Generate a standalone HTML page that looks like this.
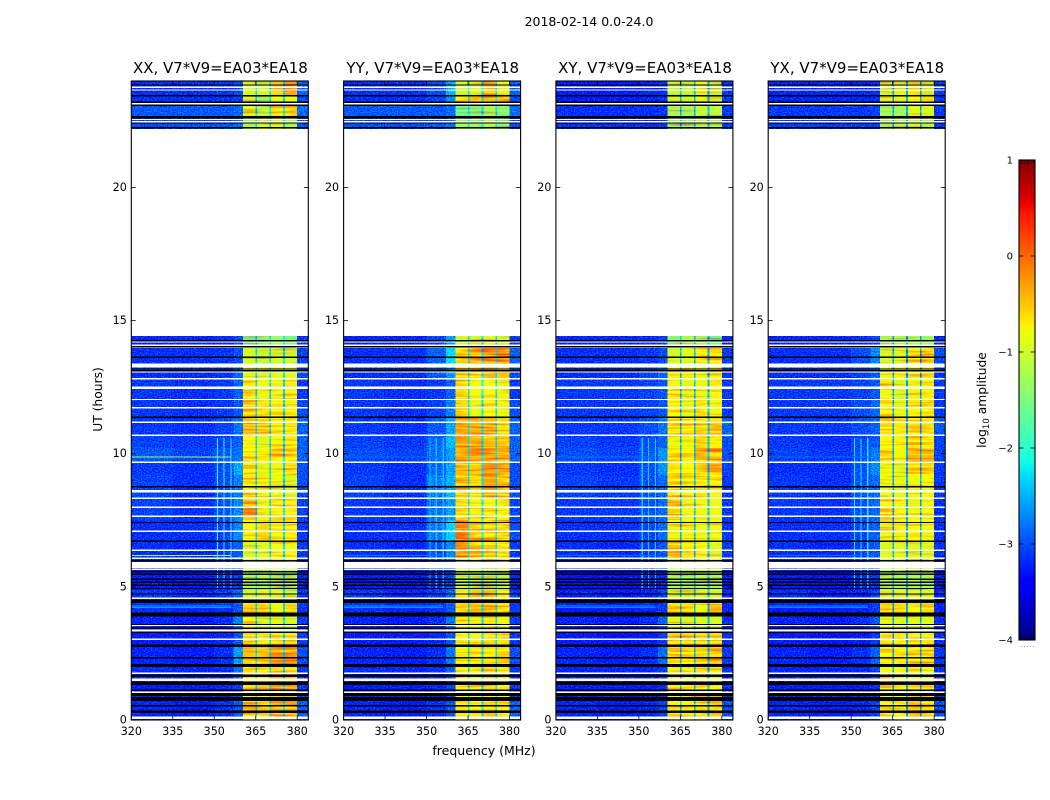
<!DOCTYPE html>
<html lang="en">
<head>
<meta charset="utf-8">
<title>2018-02-14 0.0-24.0</title>
<style>
html,body{margin:0;padding:0;background:#fff;}
svg{display:block;}
text{font-family:"DejaVu Sans",sans-serif;fill:#000;}
</style>
</head>
<body>
<svg id="figure" xmlns="http://www.w3.org/2000/svg" width="1050" height="800" viewBox="0 0 1050 800">
  <!-- Decorative grain only: stands in for pixel-level speckle that was not transcribed. Not data. -->
  <defs>
    <filter id="grainLow" filterUnits="userSpaceOnUse" x="0" y="0" width="1050" height="800" color-interpolation-filters="sRGB">
      <feTurbulence type="fractalNoise" baseFrequency="0.7 0.8" numOctaves="1" seed="3" result="t"/>
      <feColorMatrix in="t" type="matrix" values="0 0 0 0 .5  0 1 0 0 0  0 0 0 0 .5  0 0 0 0 1" result="n"/>
      <feComposite in="SourceGraphic" in2="n" operator="arithmetic" k1="0" k2="1" k3="1.1" k4="-.55" result="m"/>
      <feComposite in="m" in2="SourceAlpha" operator="in"/>
    </filter>
    <filter id="grainBand" filterUnits="userSpaceOnUse" x="0" y="0" width="1050" height="800" color-interpolation-filters="sRGB">
      <feTurbulence type="fractalNoise" baseFrequency="0.03 0.5" numOctaves="1" seed="8" result="t"/>
      <feColorMatrix in="t" type="matrix" values="0 0 0 0 .5  0 1 0 0 0  0 0 0 0 .5  0 0 0 0 1" result="n"/>
      <feComposite in="SourceGraphic" in2="n" operator="arithmetic" k1="0" k2="1" k3="1.2" k4="-.6" result="m"/>
      <feComposite in="m" in2="SourceAlpha" operator="in"/>
    </filter>
  </defs>
  <text x="589" y="26" font-size="12.5" text-anchor="middle">2018-02-14 0.0-24.0</text>
  <text x="484" y="755" font-size="12.5" text-anchor="middle">frequency (MHz)</text>
  <text x="102" y="399.5" font-size="12.3" text-anchor="middle" transform="rotate(-90 102 399.5)">UT (hours)</text>
  <text x="986" y="400" font-size="12.3" text-anchor="middle" transform="rotate(-90 986 400)">log<tspan font-size="8.6" dy="3">10</tspan><tspan dy="-3"> amplitude</tspan></text>
</svg>
<script>
// ---------- data ----------
const panelTitles = ['XX, V7*V9=EA03*EA18', 'YY, V7*V9=EA03*EA18', 'XY, V7*V9=EA03*EA18', 'YX, V7*V9=EA03*EA18'];
const xTicks = [320, 335, 350, 365, 380];
const yTicks = [0, 5, 10, 15, 20];
const colorTicks = [1, 0, -1, -2, -3, -4];

// frequency band edges (MHz) for the nine columns of each row
const freqEdges = [320, 335, 350, 357, 360.4, 365, 370, 375, 380, 384];
// time edges (UT hours), top to bottom; a null row means no data
const timeEdges = [24, 23.42, 23.13, 22.64, 22.19, 14.42, 14.01, 13.37, 12.84, 12.02, 11.38, 10.7, 10.21, 9.69, 9.2, 8.34, 7.51, 6.72, 6.08, 5.63, 4.88, 4.36, 3.98, 3.3, 2.78, 2.03, 1.43, 0.75, 0];

// log10 amplitude per time row and frequency band
const valuesXX = [
[-3.15,-3.15,-3.12,-3.0,-.95,-1.0,-.55,-.35,-2.9],
[-3.15,-3.15,-3.15,-3.05,-.95,-1.3,-.8,-.85,-3.0],
[-2.95,-2.95,-2.95,-2.85,-.9,-1.1,-.45,-.4,-2.85],
[-3.0,-3.0,-2.97,-2.85,-1.2,-.95,-.85,-1.2,-3.0],
null,
[-3.2,-3.2,-3.17,-3.05,-1.45,-1.35,-1.3,-1.5,-3.1],
[-3.15,-3.15,-3.12,-3.0,-.95,-1.05,-.95,-1.0,-3.05],
[-3.15,-3.15,-3.12,-2.85,-.85,-.95,-.85,-.85,-3.0],
[-3.1,-3.15,-3.1,-2.9,-.65,-.8,-.8,-.7,-3.1],
[-3.1,-3.15,-3.1,-2.95,-.55,-.65,-.7,-.75,-3.0],
[-3.1,-3.15,-3.05,-2.8,-.45,-.5,-.7,-.7,-2.9],
[-3.05,-3.1,-3.05,-2.9,-.7,-.9,-.75,-.7,-2.9],
[-2.95,-3.05,-2.95,-2.8,-.6,-.7,-.55,-.65,-2.9],
[-3.1,-3.15,-3.0,-2.55,-.6,-.85,-.8,-.6,-3.0],
[-3.05,-3.15,-3.0,-2.75,-.65,-.75,-.8,-.9,-3.0],
[-3.05,-3.15,-3.0,-2.7,-.4,-.8,-.65,-.65,-3.05],
[-3.15,-3.15,-3.05,-2.7,-.7,-.6,-.7,-.65,-3.1],
[-3.15,-3.2,-3.1,-2.9,-.95,-.9,-.75,-.8,-3.1],
[-3.2,-3.2,-3.1,-2.95,-.95,-.85,-.45,-.65,-3.1],
[-3.25,-3.25,-3.2,-3.1,-1.2,-1.2,-1.15,-1.2,-3.2],
[-3.1,-3.2,-3.1,-2.85,-.95,-.85,-.8,-1.0,-3.1],
[-3.15,-3.2,-3.15,-2.95,-.55,-.55,-.8,-.55,-3.1],
[-3.2,-3.25,-3.15,-2.75,-.75,-.95,-.85,-.95,-3.1],
[-3.25,-3.25,-3.2,-2.95,-.6,-.7,-.6,-.55,-3.1],
[-3.2,-3.25,-3.15,-2.6,-.45,-.45,-.3,-.25,-3.0],
[-3.15,-3.2,-3.15,-2.85,-.7,-.7,-.55,-.65,-3.1],
[-3.25,-3.25,-3.2,-3.05,-.6,-.55,-.3,-.3,-3.1],
[-3.2,-3.25,-3.15,-2.95,-.55,-.6,-.35,-.4,-2.9]
];
const valuesYY = [
[-3.15,-3.15,-3.0,-2.5,-1.0,-.9,-.45,-.85,-2.9],
[-3.15,-3.15,-3.05,-2.65,-.65,-.55,-.4,-.4,-3.0],
[-2.95,-2.95,-2.95,-2.85,-1.55,-1.4,-1.2,-1.4,-2.85],
[-3.0,-3.0,-2.97,-2.85,-1.3,-1.3,-1.1,-1.35,-3.0],
null,
[-3.2,-3.2,-3.05,-2.6,-.95,-.95,-.85,-.95,-3.1],
[-3.15,-3.15,-2.9,-2.3,-.55,-.45,-.3,-.15,-2.9],
[-3.15,-3.15,-2.95,-2.65,-.6,-.55,-.4,-.5,-3.0],
[-3.1,-3.15,-3.1,-2.9,-.65,-.75,-.65,-.8,-3.1],
[-3.1,-3.15,-3.05,-2.75,-.6,-.85,-.7,-.8,-3.0],
[-3.1,-3.15,-2.95,-2.55,-.35,-.35,-.4,-.6,-2.9],
[-3.05,-3.1,-2.9,-2.45,-.3,-.4,-.55,-.5,-2.9],
[-3.0,-3.05,-2.85,-2.6,-.3,-.3,-.3,-.35,-2.9],
[-3.1,-3.15,-2.9,-2.55,-.45,-.5,-.25,-.3,-3.0],
[-3.05,-3.15,-2.75,-2.5,-.45,-.6,-.35,-.5,-3.0],
[-3.1,-3.15,-2.85,-2.6,-.65,-.75,-.7,-.75,-3.05],
[-3.15,-3.15,-2.8,-2.35,-.15,-.4,-.5,-.6,-3.0],
[-3.15,-3.2,-3.0,-2.7,-.25,-.4,-.5,-.65,-3.1],
[-3.2,-3.2,-3.1,-2.85,-.9,-.7,-.4,-.6,-3.1],
[-3.25,-3.25,-3.2,-3.0,-1.05,-1.1,-1.05,-1.1,-3.2],
[-3.1,-3.2,-3.1,-2.85,-.7,-.6,-.55,-.7,-3.1],
[-3.15,-3.2,-3.15,-2.95,-.55,-.5,-.45,-.55,-3.1],
[-3.2,-3.25,-3.15,-2.8,-.65,-.8,-.7,-.8,-3.1],
[-3.25,-3.25,-3.2,-2.95,-.75,-.7,-.6,-.7,-3.1],
[-3.2,-3.25,-3.15,-2.8,-.75,-.7,-.7,-.6,-3.0],
[-3.15,-3.2,-3.15,-2.9,-.75,-.8,-.65,-.8,-3.1],
[-3.25,-3.25,-3.2,-3.05,-.7,-.65,-.6,-.7,-3.1],
[-3.2,-3.25,-3.15,-2.95,-.65,-.7,-.6,-.7,-2.9]
];
const valuesXY = [
[-3.25,-3.25,-3.2,-3.15,-1.05,-1.1,-.85,-1.0,-3.1],
[-3.25,-3.25,-3.2,-3.15,-1.0,-1.05,-.85,-.95,-3.1],
[-3.15,-3.15,-3.15,-3.1,-1.2,-1.25,-1.05,-1.1,-3.1],
[-3.15,-3.15,-3.15,-3.1,-1.3,-1.3,-1.1,-1.2,-3.1],
null,
[-3.2,-3.2,-3.15,-3.05,-1.45,-1.2,-1.2,-1.5,-3.2],
[-3.15,-3.15,-3.1,-3.0,-.95,-.9,-.7,-.7,-3.1],
[-3.15,-3.15,-3.05,-2.9,-.75,-.75,-.8,-.75,-3.1],
[-3.1,-3.1,-3.05,-2.95,-.7,-.85,-.8,-.7,-3.1],
[-3.1,-3.1,-3.05,-2.95,-.7,-.85,-.65,-.8,-3.1],
[-3.1,-3.1,-3.0,-2.8,-.65,-.7,-.55,-.4,-2.9],
[-3.05,-3.1,-3.0,-2.9,-.8,-.8,-.55,-.6,-3.0],
[-3.0,-3.05,-2.95,-2.65,-.7,-.75,-.4,-.4,-3.0],
[-3.1,-3.15,-3.0,-2.65,-.65,-.7,-.55,-.55,-3.05],
[-3.05,-3.1,-3.0,-2.85,-.65,-.8,-.65,-.7,-3.1],
[-3.1,-3.1,-3.0,-2.85,-.5,-.8,-.75,-.8,-3.1],
[-3.15,-3.15,-3.05,-2.85,-.8,-.8,-.8,-.8,-3.1],
[-3.15,-3.2,-3.1,-2.95,-.45,-.75,-.7,-.9,-3.1],
[-3.2,-3.2,-3.1,-3.0,-.95,-.8,-.65,-.7,-3.15],
[-3.3,-3.3,-3.25,-3.15,-1.2,-1.25,-1.15,-1.2,-3.25],
[-3.2,-3.25,-3.2,-3.05,-.95,-.9,-.85,-.95,-3.2],
[-3.25,-3.25,-3.2,-3.1,-.6,-.6,-.8,-.55,-3.2],
[-3.2,-3.25,-3.15,-2.9,-.85,-.95,-.9,-.95,-3.15],
[-3.25,-3.3,-3.25,-3.1,-.65,-.65,-.65,-.6,-3.15],
[-3.2,-3.25,-3.15,-2.85,-.6,-.65,-.55,-.45,-3.1],
[-3.2,-3.2,-3.2,-3.05,-.8,-.8,-.7,-.8,-3.15],
[-3.25,-3.25,-3.25,-3.15,-.65,-.65,-.6,-.65,-3.15],
[-3.2,-3.25,-3.2,-3.05,-.7,-.75,-.65,-.7,-3.0]
];
const valuesYX = [
[-3.2,-3.2,-3.2,-3.15,-.95,-.9,-.7,-.95,-3.1],
[-3.2,-3.2,-3.2,-3.15,-.85,-.9,-.65,-.6,-3.1],
[-3.1,-3.1,-3.1,-3.05,-1.25,-1.3,-.9,-.95,-3.1],
[-3.1,-3.1,-3.1,-3.05,-1.2,-1.15,-.95,-1.15,-3.1],
null,
[-3.2,-3.2,-3.15,-3.05,-1.2,-1.2,-1.2,-1.3,-3.2],
[-3.15,-3.15,-3.0,-2.7,-.95,-.9,-.75,-.55,-3.0],
[-3.15,-3.15,-3.05,-2.9,-.8,-.75,-.8,-.7,-3.1],
[-3.1,-3.1,-3.05,-2.95,-.75,-.95,-.8,-.75,-3.1],
[-3.1,-3.1,-3.0,-2.85,-.7,-.85,-.7,-.65,-3.1],
[-3.1,-3.1,-3.0,-2.9,-.65,-.7,-.7,-.7,-2.95],
[-3.1,-3.15,-3.05,-2.95,-.7,-.75,-.65,-.7,-3.05],
[-3.05,-3.1,-3.0,-2.75,-.6,-.8,-.4,-.4,-3.05],
[-3.15,-3.15,-3.0,-2.7,-.8,-.9,-.7,-.6,-3.1],
[-3.1,-3.15,-3.0,-2.85,-.8,-.85,-.8,-.75,-3.1],
[-3.1,-3.15,-3.0,-2.85,-.7,-.75,-.8,-.75,-3.15],
[-3.15,-3.15,-3.05,-2.9,-.8,-.75,-.7,-.8,-3.15],
[-3.15,-3.2,-3.1,-2.95,-.9,-.9,-.9,-.9,-3.15],
[-3.2,-3.2,-3.1,-3.0,-.95,-.85,-.7,-.8,-3.15],
[-3.25,-3.3,-3.25,-3.15,-1.15,-1.2,-1.15,-1.2,-3.25],
[-3.15,-3.25,-3.2,-3.05,-.9,-.85,-.85,-.9,-3.2],
[-3.25,-3.25,-3.2,-3.1,-.65,-.6,-.7,-.6,-3.2],
[-3.2,-3.25,-3.15,-2.95,-.85,-.95,-.85,-.9,-3.15],
[-3.25,-3.3,-3.25,-3.1,-.65,-.7,-.6,-.65,-3.15],
[-3.2,-3.25,-3.15,-2.9,-.65,-.7,-.6,-.55,-3.1],
[-3.2,-3.2,-3.2,-3.05,-.8,-.8,-.75,-.8,-3.15],
[-3.25,-3.25,-3.25,-3.15,-.65,-.7,-.6,-.65,-3.15],
[-3.2,-3.25,-3.2,-3.05,-.7,-.7,-.55,-.65,-3.0]
];
const panelValues = [valuesXX, valuesYY, valuesXY, valuesYX];

// narrow dropouts between sub-bands
const gapFreqs = [365, 370, 375];
const gapLevels = [-2.35, -2.3, -2.5, -2.6];

// vertical interference lines, 4.9 h to 10.6 h
const rfiFreqs = [351, 353.3, 355.8];
const rfiLevels = [-2.1, -2.4, -2.35, -2.2];
const rfiStartHour = 4.9;
const rfiEndHour = 10.6;

// horizontal interference rows: hour and level per panel
const rfiRowHours = [9.9, 6.2, 4.75, 4.3, 4.25];
const rfiRowLevelsXX = [-1.3, -1.35, -1.7, -2.55, -2.6];
const rfiRowLevelsYY = [-2.85, -2.8, -2.3, -2.6, -2.65];
const rfiRowLevelsXY = [-2.8, -2.85, -2.45, -2.65, -2.7];
const rfiRowLevelsYX = [-2.85, -2.85, -2.5, -2.65, -2.7];
const rfiRowLevels = [rfiRowLevelsXX, rfiRowLevelsYY, rfiRowLevelsXY, rfiRowLevelsYX];

// flagged integrations: no-data (white) and zero-amplitude (black) rows, UT hours
const flagWhiteHours = [23.76, 23.66, 23.15, 22.55, 22.47, 14.21, 14.07, 14.0, 13.37, 13.32, 13.27, 13.07, 12.82, 12.5, 12.45, 12.04, 11.73, 11.18, 10.69, 9.68, 8.61, 8.57, 8.33, 7.99, 7.65, 7.09, 6.37, 6.08, 5.91, 5.86, 5.81, 5.76, 5.71, 5.65, 4.57, 3.56, 3.38, 3.33, 3.03, 1.76, 1.53, 1.48, 1.04, 0.11, 0.06];
const flagBlackHours = [23.85, 23.44, 23.2, 23.09, 22.66, 22.61, 22.42, 22.24, 14.24, 14.02, 13.62, 13.18, 13.12, 11.37, 8.76, 7.42, 6.71, 5.98, 5.57, 5.47, 5.29, 5.17, 5.06, 4.94, 4.73, 4.51, 4.46, 4.41, 4.02, 3.97, 3.92, 3.59, 3.45, 3.3, 2.82, 2.77, 2.34, 2.07, 2.02, 1.69, 1.64, 1.43, 1.38, 1.33, 1.12, 0.98, 0.93, 0.83, 0.78, 0.73, 0.54, 0.34, 0.29];

// ---------- layout ----------
const panelLefts = [131.3, 343.6, 555.9, 768.2];
const panelWidth = 177;
const plotTop = 81;
const plotBottom = 720;
const freqMin = 320;
const freqMax = 384;
const hourMax = 24;
const flagDuration = 0.05;
const cbarX = 1019;
const cbarW = 16;
const cbarTop = 160;
const cbarBottom = 640;
const cbarMin = -4;
const cbarMax = 1;
const firstBandColumn = 4;
const lastBandColumn = 7;

const NS = 'http://www.w3.org/2000/svg';
const svg = document.getElementById('figure');

function xScale(panel, freq) {
  return panelLefts[panel] + (freq - freqMin) / (freqMax - freqMin) * panelWidth;
}
function yScale(hour) {
  return plotBottom - hour / hourMax * (plotBottom - plotTop);
}
function cbarScale(level) {
  return cbarBottom - (level - cbarMin) / (cbarMax - cbarMin) * (cbarBottom - cbarTop);
}
function ramp(v, pts) {
  if (v <= pts[0][0]) return pts[0][1];
  for (let i = 1; i < pts.length; i++) {
    if (v <= pts[i][0]) {
      const t = (v - pts[i - 1][0]) / (pts[i][0] - pts[i - 1][0]);
      return pts[i - 1][1] + t * (pts[i][1] - pts[i - 1][1]);
    }
  }
  return pts[pts.length - 1][1];
}
const jetR = [[0, 0], [0.35, 0], [0.66, 1], [0.89, 1], [1, 0.5]];
const jetG = [[0, 0], [0.125, 0], [0.375, 1], [0.64, 1], [0.91, 0], [1, 0]];
const jetB = [[0, 0.5], [0.11, 1], [0.34, 1], [0.65, 0], [1, 0]];
function jet(level) {
  const v = (level - cbarMin) / (cbarMax - cbarMin);
  const r = Math.round(255 * ramp(v, jetR));
  const g = Math.round(255 * ramp(v, jetG));
  const b = Math.round(255 * ramp(v, jetB));
  return 'rgb(' + r + ',' + g + ',' + b + ')';
}
function makeRect(parent, x, y, w, h, fill) {
  const r = document.createElementNS(NS, 'rect');
  r.setAttribute('x', x.toFixed(2));
  r.setAttribute('y', y.toFixed(2));
  r.setAttribute('width', w.toFixed(2));
  r.setAttribute('height', h.toFixed(2));
  r.setAttribute('fill', fill);
  r.setAttribute('shape-rendering', 'crispEdges');
  parent.appendChild(r);
  return r;
}
function makeLine(parent, x1, y1, x2, y2, color, width) {
  const l = document.createElementNS(NS, 'line');
  l.setAttribute('x1', x1);
  l.setAttribute('y1', y1);
  l.setAttribute('x2', x2);
  l.setAttribute('y2', y2);
  l.setAttribute('stroke', color);
  l.setAttribute('stroke-width', width);
  parent.appendChild(l);
  return l;
}
function makeText(parent, x, y, str, size, anchor) {
  const t = document.createElementNS(NS, 'text');
  t.setAttribute('x', x);
  t.setAttribute('y', y);
  t.setAttribute('font-size', size);
  t.setAttribute('text-anchor', anchor);
  t.textContent = str;
  parent.appendChild(t);
  return t;
}

// ---------- panels ----------
panelTitles.forEach(function (title, p) {
  const g = document.createElementNS(NS, 'g');
  
  
  svg.appendChild(g);

  const heatLow = document.createElementNS(NS, 'g');
  
  
  heatLow.setAttribute('filter', 'url(#grainLow)');
  g.appendChild(heatLow);

  const heatBand = document.createElementNS(NS, 'g');
  
  
  heatBand.setAttribute('filter', 'url(#grainBand)');
  g.appendChild(heatBand);

  const rows = panelValues[p];
  rows.forEach(function (row, ri) {
    if (!row) return;
    const y0 = yScale(timeEdges[ri]);
    const y1 = yScale(timeEdges[ri + 1]);
    row.forEach(function (val, ci) {
      const x0 = xScale(p, freqEdges[ci]);
      const x1 = xScale(p, freqEdges[ci + 1]);
      const inBand = ci >= firstBandColumn && ci <= lastBandColumn;
      const cell = makeRect(inBand ? heatBand : heatLow, x0, y0, x1 - x0, y1 - y0, jet(val));
      
      
    });
    gapFreqs.forEach(function (f) {
      const x0 = xScale(p, f - 0.1);
      const x1 = xScale(p, f + 0.5);
      const gap = makeRect(heatBand, x0, y0, x1 - x0, y1 - y0, jet(gapLevels[p]));
      
      
    });
  });

  rfiFreqs.forEach(function (f) {
    const x0 = xScale(p, f);
    const y0 = yScale(rfiEndHour);
    const y1 = yScale(rfiStartHour);
    const line = makeRect(g, x0, y0, 1.2, y1 - y0, jet(rfiLevels[p]));
    
    
  });

  rfiRowHours.forEach(function (h, i) {
    const x0 = xScale(p, freqMin);
    const x1 = xScale(p, 356);
    const line = makeRect(g, x0, yScale(h), x1 - x0, 1.2, jet(rfiRowLevels[p][i]));
    
    
  });

  flagWhiteHours.forEach(function (h) {
    const flag = makeRect(g, xScale(p, freqMin), yScale(h + flagDuration / 2), panelWidth, 1.3, '#ffffff');
    
    
  });
  flagBlackHours.forEach(function (h) {
    const flag = makeRect(g, xScale(p, freqMin), yScale(h + flagDuration / 2), panelWidth, 1.3, '#000000');
    
    
  });

  const frame = document.createElementNS(NS, 'rect');
  frame.setAttribute('x', panelLefts[p]);
  frame.setAttribute('y', plotTop);
  frame.setAttribute('width', panelWidth);
  frame.setAttribute('height', plotBottom - plotTop);
  frame.setAttribute('fill', 'none');
  frame.setAttribute('stroke', '#000');
  frame.setAttribute('stroke-width', '1.1');
  
  
  g.appendChild(frame);

  const titleEl = makeText(g, panelLefts[p] + panelWidth / 2 + 0.6, 73, title, 15, 'middle');
  
  

  xTicks.forEach(function (f) {
    const x = xScale(p, f);
    const t1 = makeLine(g, x, plotBottom, x, plotBottom - 4.4, '#000', 0.8);
    
    
    const t2 = makeLine(g, x, plotTop, x, plotTop + 4.4, '#000', 0.8);
    
    
    const lab = makeText(g, x, 735, String(f), 11.1, 'middle');
    
    
  });
  yTicks.forEach(function (h) {
    const y = yScale(h);
    const x0 = panelLefts[p];
    const t1 = makeLine(g, x0, y, x0 + 4.4, y, '#000', 0.8);
    
    
    const t2 = makeLine(g, x0 + panelWidth, y, x0 + panelWidth - 4.4, y, '#000', 0.8);
    
    
    const lab = makeText(g, x0 - 4.5, y + 3.4, String(h), 11.1, 'end');
    
    
  });
});

// ---------- colorbar ----------
const cbar = document.createElementNS(NS, 'g');


svg.appendChild(cbar);
for (let py = cbarTop; py < cbarBottom; py += 2) {
  const level = cbarMax - (py + 1 - cbarTop) / (cbarBottom - cbarTop) * (cbarMax - cbarMin);
  const step = makeRect(cbar, cbarX, py, cbarW, 2, jet(level));
  
  
}
const cbarFrame = document.createElementNS(NS, 'rect');
cbarFrame.setAttribute('x', cbarX);
cbarFrame.setAttribute('y', cbarTop);
cbarFrame.setAttribute('width', cbarW);
cbarFrame.setAttribute('height', cbarBottom - cbarTop);
cbarFrame.setAttribute('fill', 'none');
cbarFrame.setAttribute('stroke', '#000');
cbarFrame.setAttribute('stroke-width', '1.1');


cbar.appendChild(cbarFrame);
colorTicks.forEach(function (level) {
  const y = cbarScale(level);
  const t1 = makeLine(cbar, cbarX, y, cbarX + 4.4, y, '#000', 0.8);
  
  
  const t2 = makeLine(cbar, cbarX + cbarW, y, cbarX + cbarW - 4.4, y, '#000', 0.8);
  
  
  const str = level < 0 ? '\u2212' + Math.abs(level) : String(level);
  const lab = makeText(cbar, cbarX - 6, y + 3.6, str, 10, 'end');
  
  
});
const cbarMinorOffsets = [3, 6, 9, 12, 15];
cbarMinorOffsets.forEach(function (dx) {
  const top = makeLine(cbar, cbarX + dx, cbarTop, cbarX + dx, cbarTop + 4, '#000', 0.7);
  
  
  const bottom = makeLine(cbar, cbarX + dx, cbarBottom, cbarX + dx, cbarBottom - 5, '#000', 0.7);
  
  
  const dot = makeRect(cbar, cbarX + dx - 1, cbarBottom + 6, 1, 1, '#aaaaaa');
  
  
});
</script>
</body>
</html>
